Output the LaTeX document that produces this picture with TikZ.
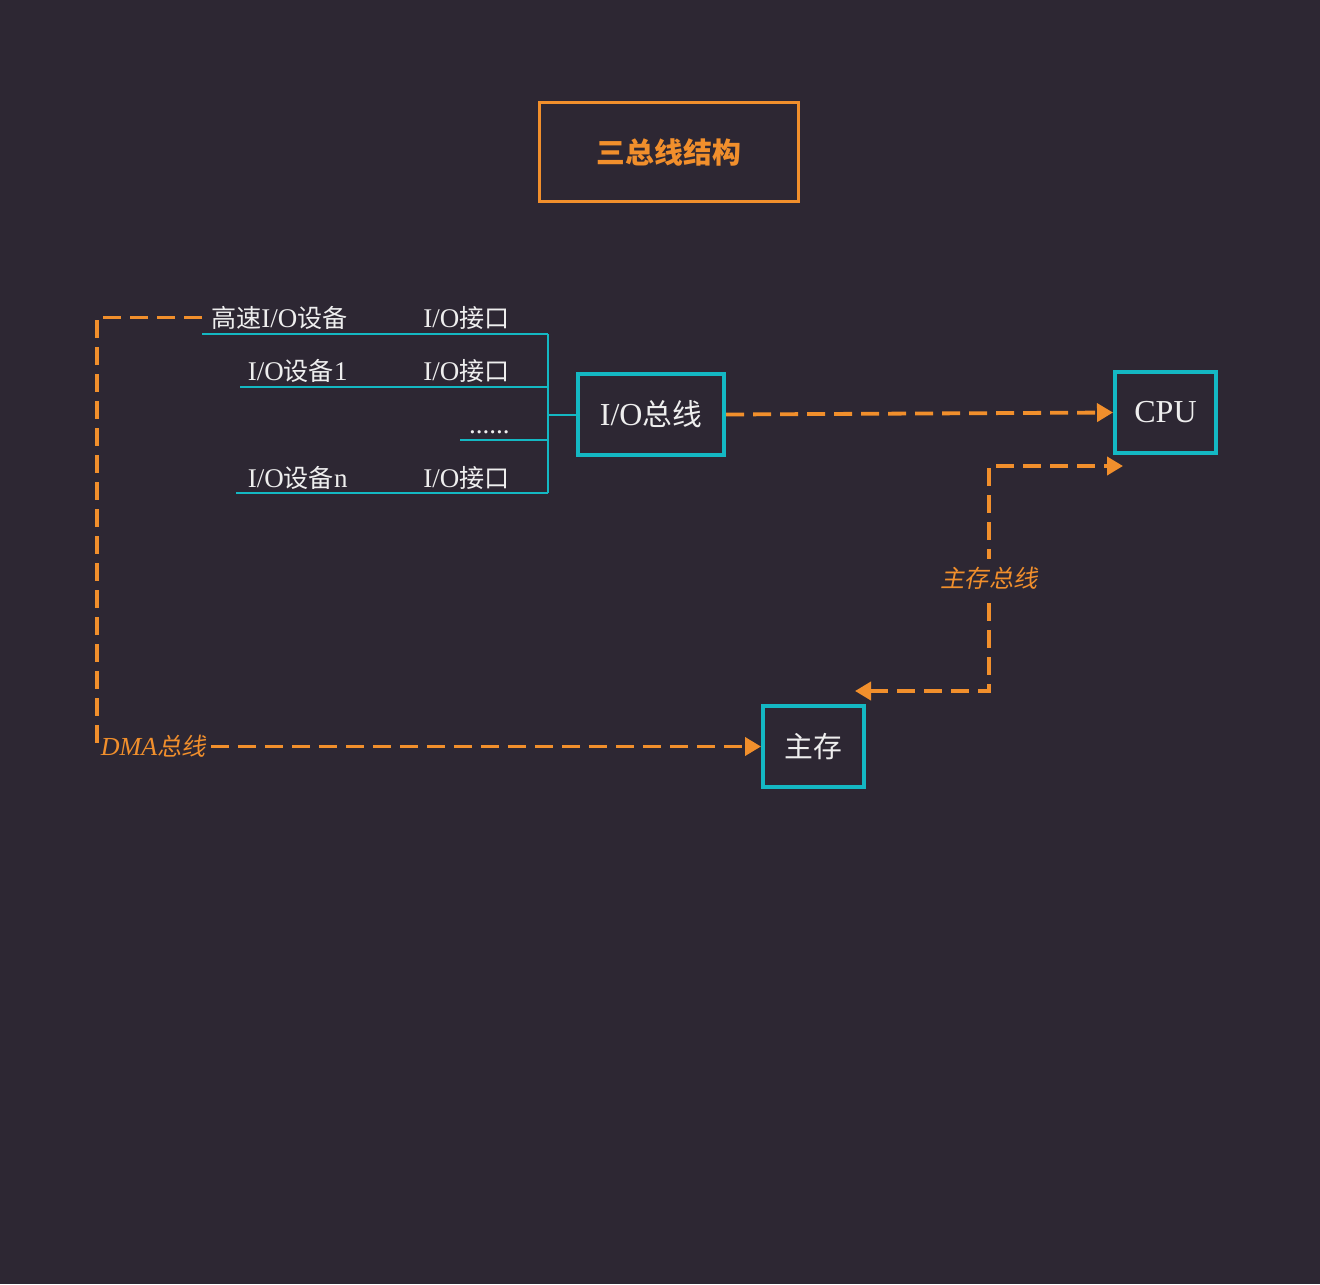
\documentclass[tikz,border=0pt]{standalone}
\usepackage{fontspec}
\setmainfont{Liberation Serif}
\newfontfamily\cjk[Scale=0.93]{Noto Sans CJK SC}
\newfontfamily\cjkit[Scale=0.93,FakeSlant=0.2]{Noto Sans CJK SC}
\newcommand{\zh}[1]{{\cjk #1}}
\newcommand{\zhit}[1]{{\cjkit #1}}
\usetikzlibrary{arrows.meta,positioning,calc}
\definecolor{busBg}{HTML}{2D2733}
\definecolor{busOrange}{HTML}{F18F2C}
\definecolor{busTeal}{HTML}{14B8C3}
\definecolor{busText}{HTML}{EEEEEE}

\begin{document}
\begin{tikzpicture}[x=0.5pt,y=-0.5pt,
  unit/.style={draw=busTeal,line width=1.9pt,minimum height=40.6pt,inner sep=0pt,
               text=busText,font=\fontsize{16}{18}\selectfont},
  wire/.style={draw=busTeal,line width=1pt},
  bus/.style={draw=busOrange,line width=1.9pt,dash pattern=on 9pt off 4.5pt},
  tip/.style={-{Triangle[length=8pt,width=9pt]}},
  devtext/.style={text=busText,inner sep=0pt,font=\fontsize{13.5}{16}\selectfont},
  buslabel/.style={text=busOrange,fill=busBg,inner xsep=1pt,inner ysep=4pt,
                   font=\fontsize{13}{15}\selectfont}]
  \fill[busBg] (0,0) rectangle (1320,1284);
  \useasboundingbox (0,0) rectangle (1320,1284);

  % title
  \node[draw=busOrange,line width=1.6pt,minimum width=129.4pt,minimum height=49.4pt,
        text=busOrange,font=\cjk\bfseries\fontsize{15.5}{18}\selectfont] (title) at (669,152) {三总线结构};

  % units
  \node[unit,minimum width=73.1pt] (iobus) at (651,414.5) {I/O\zh{总线}};
  \node[unit,minimum width=50.6pt] (cpu) at (1165.5,412.5) {CPU};
  \node[unit,minimum width=50.6pt,font=\cjk\fontsize{15.5}{18}\selectfont] (mem) at (813.5,746.5) {主存};

  % i/o devices and interfaces
  \node[devtext,anchor=base east] (dev0) at (348,327) {\zh{高速}I/O\zh{设备}};
  \node[devtext,anchor=base east] (if0) at (510,327) {I/O\zh{接口}};
  \node[devtext,anchor=base east] (dev1) at (348,380) {I/O\zh{设备}1};
  \node[devtext,anchor=base east] (if1) at (510,380) {I/O\zh{接口}};
  \node[devtext,anchor=base east] (dots) at (510,433) {......};
  \node[devtext,anchor=base east] (devn) at (348,487) {I/O\zh{设备}n};
  \node[devtext,anchor=base east] (ifn) at (510,487) {I/O\zh{接口}};

  \coordinate (s0) at (202,334);  \coordinate (r0) at (548,334);
  \coordinate (s1) at (240,387);  \coordinate (r1) at (548,387);
  \coordinate (s2) at (460,440);  \coordinate (r2) at (548,440);
  \coordinate (sn) at (236,493);  \coordinate (rn) at (548,493);

  \draw[wire] (s0) -- (r0);
  \draw[wire] (s1) -- (r1);
  \draw[wire] (s2) -- (r2);
  \draw[wire] (sn) -- (rn);
  \draw[wire] (r0) -- (rn);
  \draw[wire] (r0 |- iobus) -- (iobus.west);

  % buses
  \draw[bus,tip] (iobus.east) -- (cpu.west);

  \coordinate (memtap) at ([shift={(-11,-13)}]mem.north east);
  \coordinate (cputap) at ([shift={(10,11)}]cpu.south west);
  \draw[bus,{Triangle[length=8pt,width=9pt]}-{Triangle[length=8pt,width=9pt]}]
    (memtap) -| ($(memtap)!.5!(cputap)$) node[buslabel] {\zhit{主存总线}} |- (cputap);

  \coordinate (dmatap) at (s0 |- dev0.west);
  \draw[bus,tip] (dmatap) -- ++(-105,0) |- node[buslabel,pos=.5,anchor=west]
    {\itshape DMA\zhit{总线}} (mem.west);
\end{tikzpicture}
\end{document}
